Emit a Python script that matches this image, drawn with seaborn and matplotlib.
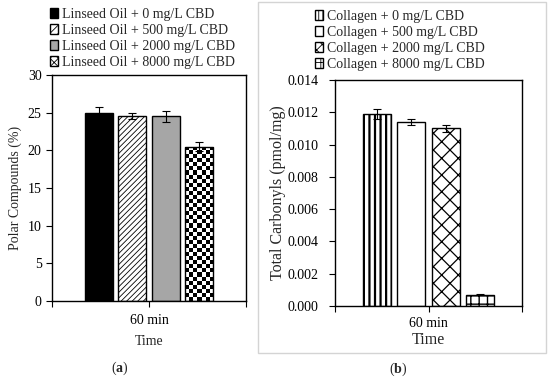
import numpy as np
import pandas as pd
import seaborn as sns
import matplotlib.pyplot as plt
from matplotlib.patches import Rectangle, Patch

time_label = "60 min"
oil_groups = ["Linseed Oil + 0 mg/L CBD", "Linseed Oil + 500 mg/L CBD",
              "Linseed Oil + 2000 mg/L CBD", "Linseed Oil + 8000 mg/L CBD"]
oil_values = [25.0, 24.5, 24.5, 20.5]
oil_errors = [0.7, 0.4, 0.7, 0.6]
col_groups = ["Collagen + 0 mg/L CBD", "Collagen + 500 mg/L CBD",
              "Collagen + 2000 mg/L CBD", "Collagen + 8000 mg/L CBD"]
col_values = [0.0119, 0.0114, 0.0110, 0.0007]
col_errors = [0.0003, 0.0002, 0.0002, 0.00002]

sns.set_style("ticks")
plt.rcParams['font.family'] = ['Liberation Serif', 'DejaVu Serif']
plt.rcParams['mathtext.fontset'] = 'custom'
plt.rcParams['mathtext.bf'] = 'Liberation Serif:bold'
plt.rcParams['hatch.linewidth'] = 0.6

fig = plt.figure(figsize=(5.5, 3.78), dpi=100)
ax1 = fig.add_axes([52/550, 1-301/378, 194/550, 226/378])
ax2 = fig.add_axes([335/550, 1-306/378, 187/550, 226/378])

# light frame around panel (b)
fig.add_artist(Rectangle((258/550, 1-353/378), 288/550, 351/378,
                         transform=fig.transFigure, fill=False,
                         edgecolor='#d4d4d4', lw=1))


def draw_panel(ax, groups, values, errors, colors, hatches, width, gap, ymax, step):
    df = pd.DataFrame({'Time': [time_label]*len(groups), 'value': values, 'group': groups})
    sns.barplot(data=df, x='Time', y='value', hue='group', hue_order=groups,
                palette=colors, width=width, gap=gap, edgecolor='black',
                linewidth=1, errorbar=None, legend=False, ax=ax)
    bars = [c[0] for c in ax.containers]
    for bar, h in zip(bars, hatches):
        if h:
            bar.set_hatch(h)
    for bar, v, e in zip(bars, values, errors):
        ax.errorbar(bar.get_x()+bar.get_width()/2, v, yerr=e, color='black',
                    lw=0.8, capsize=3, capthick=0.8, zorder=5)
    ax.set_xlim(-0.5, 0.5)
    ax.set_ylim(0, ymax)
    ax.set_yticks(np.arange(0, ymax+step/2, step))
    ax.set_xticks([-0.5, 0, 0.5])
    ax.set_xticklabels(['', time_label, ''])
    for s in ax.spines.values():
        s.set_visible(True)
        s.set_color('black')
        s.set_linewidth(1)
    ax.tick_params(axis='both', direction='out', length=4, width=0.8,
                   colors='black', labelsize=10)
    ax.tick_params(axis='x', pad=5)
    return bars


bars1 = draw_panel(ax1, oil_groups, oil_values, oil_errors,
                   ['black', 'white', '#a6a6a6', 'white'],
                   ['', '//////', '', ''], 0.69, 0.16, 30, 5)
bars2 = draw_panel(ax2, col_groups, col_values, col_errors,
                   ['white', 'white', 'white', 'white'],
                   ['|||', '', 'xx', '++'], 0.73, 0.18, 0.014, 0.002)
ax2.yaxis.set_major_formatter(plt.FormatStrFormatter('%.3f'))
ax2.tick_params(axis='y', pad=8)
ax2.tick_params(axis='x', pad=4)
if hasattr(bars2[0], 'set_hatch_linewidth'):
    bars2[0].set_hatch_linewidth(1.6)
    bars2[2].set_hatch_linewidth(0.9)
    bars2[3].set_hatch_linewidth(1.0)

# checkerboard texture for the 8000 mg/L oil bar
cb = bars1[3]
x0, w, h = cb.get_x(), cb.get_width(), cb.get_height()
p0 = ax1.transData.transform((x0, 0))
p1 = ax1.transData.transform((x0+w, h))
ncol = 7
nrow = int(round(ncol * (p1[1]-p0[1]) / (p1[0]-p0[0])))
checker = np.indices((nrow, ncol)).sum(axis=0) % 2
im = ax1.imshow(checker, cmap='gray', extent=(x0, x0+w, 0, h), aspect='auto',
                interpolation='nearest', zorder=cb.get_zorder()-0.01)
im.set_clip_path(cb)
cb.set_facecolor('none')
ax1.set_xlim(-0.5, 0.5)
ax1.set_ylim(0, 30)

ax1.set_ylabel('Polar Compounds (%)', fontsize=10)
ax1.set_xlabel('Time', fontsize=10, labelpad=6)
ax2.set_ylabel('Total Carbonyls (pmol/mg)', fontsize=11.5, labelpad=1)
ax2.set_xlabel('Time', fontsize=11.5, labelpad=1)

leg_kw = dict(frameon=False, borderpad=0, labelspacing=0.22, handlelength=0.6,
              handleheight=0.7, handletextpad=0.25, fontsize=10,
              bbox_transform=fig.transFigure, loc='upper left')
h1 = [Patch(facecolor='black', edgecolor='black'),
      Patch(facecolor='white', edgecolor='black', hatch='////'),
      Patch(facecolor='#a6a6a6', edgecolor='black'),
      Patch(facecolor='white', edgecolor='black', hatch='XXXX')]
ax1.legend(h1, oil_groups, bbox_to_anchor=(43/550, 1-1/378), **leg_kw)
h2 = [Patch(facecolor='white', edgecolor='black', hatch='||||'),
      Patch(facecolor='white', edgecolor='black'),
      Patch(facecolor='white', edgecolor='black', hatch='xxx'),
      Patch(facecolor='white', edgecolor='black', hatch='++')]
ax2.legend(h2, col_groups, bbox_to_anchor=(308/550, 1-3/378), **leg_kw)

fig.text(120/550, 1-368/378, r'($\mathbf{a}$)', ha='center', va='center', fontsize=10)
fig.text(398/550, 1-369/378, r'($\mathbf{b}$)', ha='center', va='center', fontsize=10)

fig.savefig('out.png', dpi=100)
